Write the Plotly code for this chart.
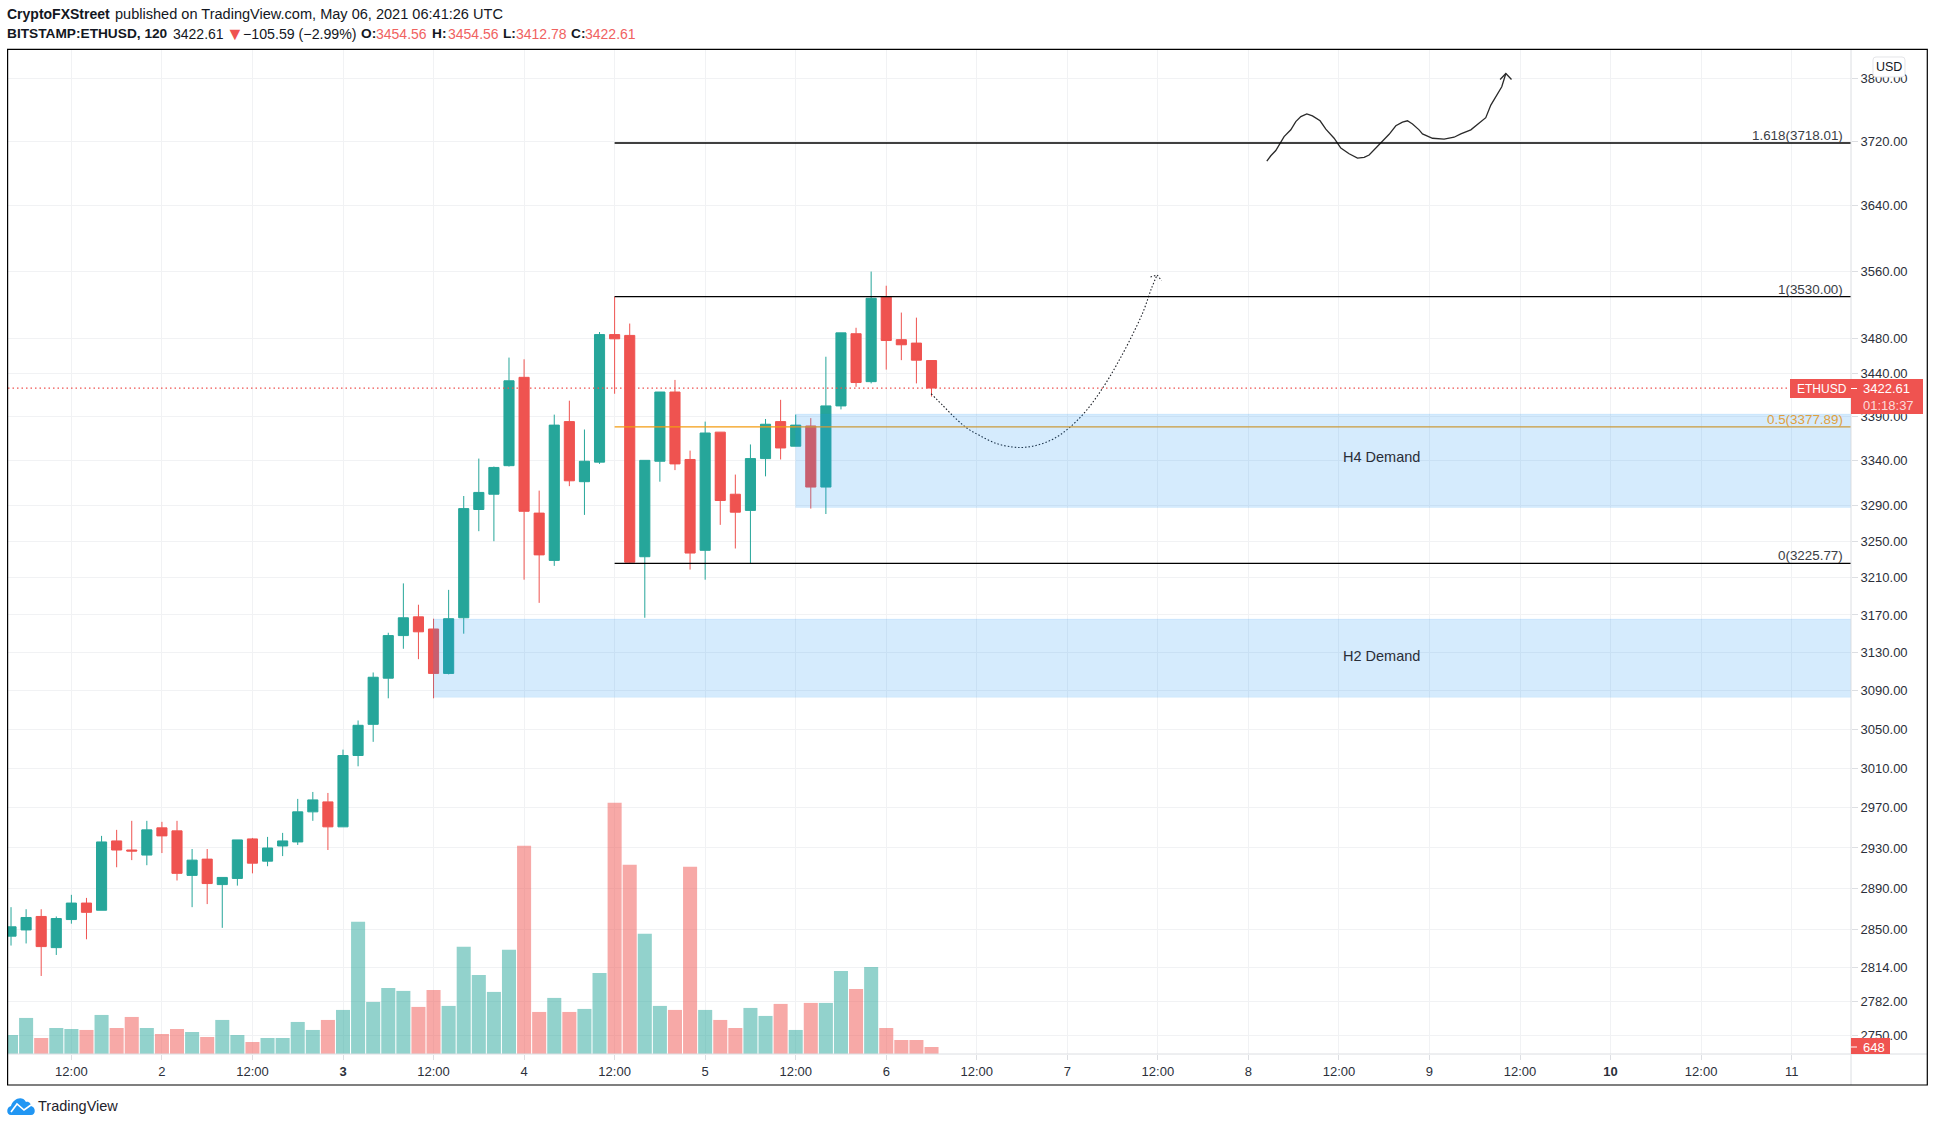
import math
import re

import pandas as pd
import plotly.graph_objects as go

W, H = 1935, 1127
L, T, R, B = 8, 49, 1851, 1054  # plot area in page pixels

FIRST_BAR = "2021-05-01 04:00"
X_START = "2021-05-01 03:36"
X_END = "2021-05-11 07:52"
Y_LOW, Y_HIGH = 2733, 3838
VOLUME_TOP = 93035

OPENS = [2844, 2850, 2863, 2833, 2860, 2876, 2869, 2937, 2928, 2923, 2950, 2947, 2903, 2919, 2894, 2900,
         2939, 2917, 2932, 2936, 2966, 2976, 2951, 3023, 3055, 3103, 3148, 3168, 3155, 3108, 3167, 3285,
         3302, 3334, 3435, 3281, 3229, 3384, 3316, 3338, 3485, 3484, 3233, 3339, 3418, 3341, 3240, 3372,
         3302, 3284, 3342, 3384, 3356, 3379, 3310, 3402, 3486, 3430, 3530, 3479, 3475, 3454.56]
HIGHS = [2872, 2870, 2870, 2863, 2884, 2881, 2942, 2948, 2957, 2957, 2956, 2957, 2929, 2929, 2901, 2938,
         2940, 2941, 2945, 2979, 2986, 2985, 3029, 3059, 3109, 3151, 3204, 3181, 3166, 3197, 3300, 3342,
         3333, 3458, 3456, 3306, 3392, 3408, 3375, 3488, 3530, 3498, 3340, 3418, 3432, 3351, 3384, 3372,
         3324, 3358, 3387, 3409, 3392, 3388, 3459, 3487, 3493, 3560, 3543, 3511, 3505, 3454.56]
LOWS = [2835, 2837, 2806, 2826, 2856, 2841, 2869, 2911, 2918, 2913, 2925, 2898, 2872, 2875, 2852, 2893,
        2905, 2912, 2922, 2933, 2957, 2928, 2951, 3012, 3037, 3082, 3134, 3123, 3082, 3107, 3150, 3261,
        3250, 3333, 3208, 3183, 3223, 3311, 3279, 3336, 3416, 3226, 3167, 3316, 3329, 3219, 3208, 3268,
        3242, 3226, 3322, 3341, 3356, 3286, 3280, 3398, 3424, 3428, 3444, 3455, 3428, 3412.78]
CLOSES = [2853, 2862, 2834, 2861, 2876, 2867, 2936, 2928, 2927, 2948, 2942, 2905, 2918, 2895, 2901, 2938,
          2915, 2930, 2937, 2966, 2978, 2951, 3023, 3054, 3104, 3148, 3167, 3152, 3108, 3166, 3286, 3304,
          3332, 3431, 3283, 3235, 3380, 3317, 3339, 3485, 3480, 3227, 3340, 3418, 3336, 3237, 3371, 3295,
          3282, 3342, 3381, 3354, 3380, 3310, 3402, 3487, 3429, 3528, 3478, 3473, 3455, 3422.61]
VOLUMES = [1761, 3337, 1483, 2410, 2317, 2225, 3615, 2410, 3430, 2410, 1854, 2317, 2039, 1576, 3152, 1761,
           1112, 1483, 1483, 2966, 2225, 3152, 4079, 12236, 4820, 6118, 5840, 4357, 5933, 4450, 9919, 7323,
           5747, 9641, 19282, 3893, 5191, 3893, 4172, 7509, 23268, 17520, 11124, 4450, 4079, 17335, 4079, 3152,
           2410, 4264, 3523, 4635, 2225, 4728, 4728, 7694, 6026, 8065, 2410, 1298, 1298, 648]

PRICE_TICKS = [3800, 3720, 3640, 3560, 3480, 3440, 3390, 3340, 3290, 3250, 3210, 3170, 3130, 3090, 3050,
               3010, 2970, 2930, 2890, 2850, 2814, 2782, 2750]
TIME_TICKS = ["2021-05-01 12:00", "2021-05-02", "2021-05-02 12:00", "2021-05-03", "2021-05-03 12:00",
              "2021-05-04", "2021-05-04 12:00", "2021-05-05", "2021-05-05 12:00", "2021-05-06",
              "2021-05-06 12:00", "2021-05-07", "2021-05-07 12:00", "2021-05-08", "2021-05-08 12:00",
              "2021-05-09", "2021-05-09 12:00", "2021-05-10", "2021-05-10 12:00", "2021-05-11"]
TIME_LABELS = ["12:00", "2", "12:00", "<b>3</b>", "12:00", "4", "12:00", "5", "12:00", "6", "12:00", "7",
               "12:00", "8", "12:00", "9", "12:00", "<b>10</b>", "12:00", "11"]

FIB_START = "2021-05-04 12:00"
FIB_LABEL_END = "2021-05-11 07:00"
FIB_LEVELS = [3718.01, 3530.00, 3377.89, 3225.77]
FIB_NAMES = ["1.618", "1", "0.5", "0"]

LAST_PRICE = 3422.61
H4_ZONE = ("2021-05-05 12:00", 3287.3, 3392.6)
H2_ZONE = ("2021-05-03 12:00", 3083, 3165.6)

# dotted projection, hours after May 6 00:00
DOTTED_BASE = "2021-05-06"
DOTTED_HOURS = [5.95, 7.55, 9.09, 10.64, 12.41, 14.62, 16.82, 18.14, 19.92, 22.1, 24.33, 26.55, 28.75, 30.5,
                32.3, 34.05, 35.16, 35.9]
DOTTED_PRICES = [3416, 3402, 3388.5, 3377, 3368, 3359, 3355, 3354.6, 3357, 3364, 3377.5, 3397, 3423.5, 3449,
                 3478.8, 3512, 3540, 3556]
DOTTED_HEAD_HOURS = [35.03, 35.9, 36.5]
DOTTED_HEAD_PRICES = [3553.5, 3556, 3549]

# hand drawn path, hours after May 8 00:00
SKETCH_BASE = "2021-05-08"
SKETCH_HOURS = [2.44, 2.97, 3.63, 4.2, 4.73, 5.62, 6.28, 6.95, 7.74, 8.49, 9.5, 10.26, 11.36, 12.25, 13.35,
                14.46, 15.34, 16.0, 17.55, 18.65, 19.54, 20.42, 21.08, 21.75, 22.62, 23.07, 24.4, 25.94,
                27.26, 28.15, 29.48, 30.58, 31.46, 32.13, 33.0, 33.58, 34.12]
SKETCH_PRICES = [3695.4, 3702, 3708.6, 3718.5, 3726, 3734.6, 3745, 3751.4, 3754.8, 3752.3, 3746, 3735.4, 3724,
                 3711.6, 3704.5, 3699, 3700, 3703, 3718.5, 3729, 3739.7, 3744.4, 3746, 3742, 3734.6, 3729.5,
                 3724, 3722.8, 3725.3, 3729.5, 3734.6, 3743, 3750, 3766, 3781, 3789.4, 3806.4]
SKETCH_HEAD_HOURS = [33.36, 34.12, 34.87]
SKETCH_HEAD_PRICES = [3798.7, 3806.4, 3798.7]

UP = "#26a69a"
DOWN = "#ef5350"
RED_TEXT = "#f0625f"
INK = "#131722"
AXIS_TEXT = "#2b2f3a"
GRID = "#f1f2f4"
EDGE = "#dcdee2"
FONT = "Liberation Sans"


def fx(x):
    return (x - L) / (R - L)


def fy(y):
    return 1 - (y - T) / (B - T)


def px_path(d):
    return re.sub(r"(-?[\d.]+),(-?[\d.]+)", lambda m: f"{fx(float(m[1])):.6f},{fy(float(m[2])):.6f}", d)


def after(base, hours):
    return [pd.Timestamp(base) + pd.Timedelta(hours=h) for h in hours]


times = pd.date_range(FIRST_BAR, periods=len(OPENS), freq="2h")
volume_colors = ["rgba(38,166,154,0.5)" if c >= o else "rgba(239,83,80,0.5)" for o, c in zip(OPENS, CLOSES)]

fig = go.Figure()
fig.add_trace(go.Bar(x=times, y=VOLUMES, marker=dict(color=volume_colors, line_width=0), yaxis="y", showlegend=False))
fig.add_trace(go.Candlestick(x=times, open=OPENS, high=HIGHS, low=LOWS, close=CLOSES, yaxis="y2", whiskerwidth=0,
                             increasing=dict(line=dict(color=UP, width=1), fillcolor=UP),
                             decreasing=dict(line=dict(color=DOWN, width=1), fillcolor=DOWN),
                             showlegend=False))

for hours, prices, base, color, width, dash, spline in [
    (DOTTED_HOURS, DOTTED_PRICES, DOTTED_BASE, "#1c1f26", 1.1, "1.5px,2px", True),
    (DOTTED_HEAD_HOURS, DOTTED_HEAD_PRICES, DOTTED_BASE, "#1c1f26", 1.1, "1.5px,2px", False),
    (SKETCH_HOURS, SKETCH_PRICES, SKETCH_BASE, "#2a2a2a", 1.3, "solid", False),
    (SKETCH_HEAD_HOURS, SKETCH_HEAD_PRICES, SKETCH_BASE, "#2a2a2a", 1.3, "solid", False),
]:
    fig.add_trace(go.Scatter(x=after(base, hours), y=prices, yaxis="y2", mode="lines", showlegend=False,
                             line=dict(color=color, width=width, dash=dash, shape="spline" if spline else "linear")))


def data_shape(kind, x0, x1, y0, y1, **kw):
    fig.add_shape(type=kind, xref="x", yref="y2", x0=x0, x1=x1, y0=y0, y1=y1, layer="above", **kw)


def page_line(x0, y0, x1, y1, color, width=1):
    fig.add_shape(type="line", xref="paper", yref="paper", x0=fx(x0), x1=fx(x1), y0=fy(y0), y1=fy(y1),
                  line=dict(color=color, width=width), layer="above")


def page_rect(x0, y0, x1, y1, fill):
    fig.add_shape(type="rect", xref="paper", yref="paper", x0=fx(x0), x1=fx(x1), y0=fy(y0), y1=fy(y1),
                  fillcolor=fill, line_width=0, layer="above")


def page_path(d, fill="rgba(0,0,0,0)", color="rgba(0,0,0,0)", width=0):
    fig.add_shape(type="path", xref="paper", yref="paper", path=px_path(d), fillcolor=fill,
                  line=dict(color=color, width=width), layer="above")


def page_text(x, y, text, size=13, color=INK, anchor="left", font=FONT):
    fig.add_annotation(xref="paper", yref="paper", x=fx(x), y=fy(y), text=text, showarrow=False, xanchor=anchor,
                       yanchor="middle", font=dict(size=size, color=color, family=font), borderpad=0, borderwidth=0)


# price line and the golden level sit under the zones
data_shape("line", X_START, X_END, LAST_PRICE, LAST_PRICE, line=dict(color=DOWN, width=1.3, dash="1.5px,3px"))
data_shape("line", FIB_START, X_END, FIB_LEVELS[2], FIB_LEVELS[2], line=dict(color="#f39c12", width=1.2))
for start, low, high in [H4_ZONE, H2_ZONE]:
    data_shape("rect", start, X_END, low, high, fillcolor="rgba(33,150,243,0.19)",
               line=dict(color="rgba(33,150,243,0.08)", width=1))
for level in (FIB_LEVELS[0], FIB_LEVELS[1], FIB_LEVELS[3]):
    data_shape("line", FIB_START, X_END, level, level, line=dict(color="#000000", width=1.3))

for level, name in zip(FIB_LEVELS, FIB_NAMES):
    color = "#e0a040" if name == "0.5" else "#3a3d45"
    fig.add_annotation(x=FIB_LABEL_END, y=math.log10(level), xref="x", yref="y2", text=f"{name}({level:.2f})",
                       showarrow=False, xanchor="right", yanchor="bottom", yshift=-1, borderpad=0,
                       font=dict(size=13.4, color=color, family=FONT))

for start, price, name in [("2021-05-08 17:40", 3344, "H4 Demand"), ("2021-05-08 17:40", 3126, "H2 Demand")]:
    fig.add_annotation(x=start, y=math.log10(price), xref="x", yref="y2", text=name, showarrow=False,
                       font=dict(size=14.5, color="#2a2e38", family=FONT))

# frame and axis edges
page_line(R, T, R, 1085, EDGE)
page_line(L, B, 1927, B, EDGE)
fig.add_shape(type="rect", xref="paper", yref="paper", x0=fx(7.6), x1=fx(1927.3), y0=fy(49.3), y1=fy(1085),
              line=dict(color="#000000", width=1.2), layer="above")

# price badges over the axis
page_path("M 1876,57 L 1902,57 Q 1905,57 1905,60 L 1905,74 Q 1905,77 1902,77 L 1876,77 "
          "Q 1873,77 1873,74 L 1873,60 Q 1873,57 1876,57 Z", fill="#ffffff", color="#e4e5e8", width=1)
page_text(1889, 67, "USD", anchor="center", size=12.5)
page_rect(1790, 379, 1923, 398, DOWN)
page_rect(1851, 398, 1923, 414, DOWN)
page_text(1797, 388.5, "ETHUSD", color="#ffffff", size=12)
page_line(1851, 388.5, 1857, 388.5, "#ffffff")
page_text(1863, 388.5, "3422.61", color="#ffffff", size=13)
page_text(1863, 405.5, "01:18:37", color="#fbdcdb", size=13)
page_rect(1851, 1038, 1890, 1054, DOWN)
page_line(1851, 1047, 1857, 1047, "#ffffff")
page_text(1863, 1047, "648", color="#ffffff", size=13)

# header
page_text(7, 14.5, "<b>CryptoFXStreet</b>", size=14)
page_text(115, 14.5, "published on TradingView.com, May 06, 2021 06:41:26 UTC", size=14.55)
page_text(7, 33.5, "<b>BITSTAMP:ETHUSD, 120</b>", size=13.7)
page_text(173, 33.5, "3422.61", size=14)
page_text(226, 33.5, "▼", size=18, color=DOWN)
page_text(243, 33.5, "−105.59 (−2.99%)", size=14.2)
for x, key, x_value, value in [(360.7, "O:", 376, "3454.56"), (432, "H:", 448, "3454.56"),
                               (503, "L:", 515.6, "3412.78"), (571, "C:", 585, "3422.61")]:
    page_text(x, 33.5, f"<b>{key}</b>", size=13.7)
    page_text(x_value, 33.5, value, size=14, color=RED_TEXT)

# TradingView mark
page_path("M 11,1115 C 6,1115 6,1107 11,1106 C 13,1099 22,1095 26,1102 C 29,1101 31,1104 31,1106 "
          "C 36,1107 36,1115 31,1115 Z", fill="#2196f3")
page_path("M 11,1112 L 17,1104 L 24,1110 L 31,1105", color="#ffffff", width=1.6)
page_text(38, 1106, "TradingView", size=14.5, color="#1f232c")

fig.update_layout(
    width=W, height=H, margin=dict(l=L, r=W - R, t=T, b=H - B),
    paper_bgcolor="#ffffff", plot_bgcolor="#ffffff", boxgap=0.33, boxgroupgap=0, bargap=0.07, showlegend=False,
    xaxis=dict(type="date", range=[X_START, X_END], rangeslider=dict(visible=False), tickmode="array",
               tickvals=TIME_TICKS, ticktext=TIME_LABELS, showgrid=True, gridcolor=GRID, gridwidth=1,
               ticks="outside", ticklen=5, tickcolor=EDGE, showline=False, zeroline=False,
               tickfont=dict(size=13, color=AXIS_TEXT, family=FONT)),
    yaxis=dict(range=[0, VOLUME_TOP], visible=False, showgrid=False, zeroline=False),
    yaxis2=dict(type="log", overlaying="y", side="right", anchor="x",
                range=[math.log10(Y_LOW), math.log10(Y_HIGH)], tickmode="array", tickvals=PRICE_TICKS,
                ticktext=[f"{p:.2f}" for p in PRICE_TICKS], showgrid=True, gridcolor=GRID, gridwidth=1,
                ticks="outside", ticklen=6, tickcolor=EDGE, showline=False, zeroline=False,
                tickfont=dict(size=13, color=AXIS_TEXT, family=FONT)),
)

fig.write_html("out.html", config=dict(displayModeBar=False),
               post_script="document.body.style.margin='0';document.body.style.overflow='hidden';")
